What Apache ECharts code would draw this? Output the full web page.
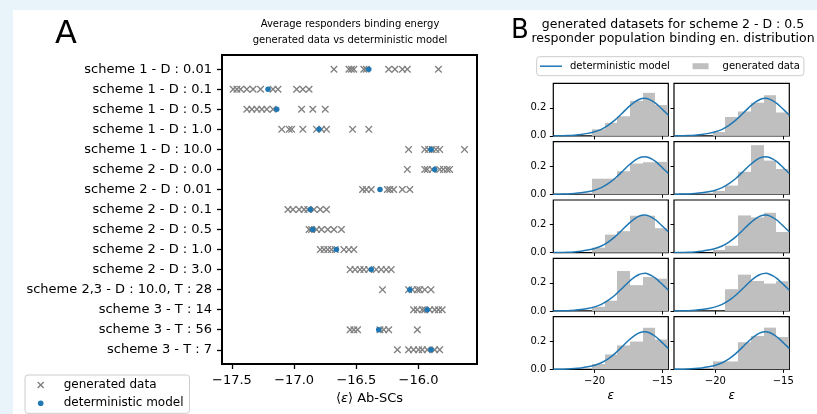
<!DOCTYPE html>
<html>
<head>
<meta charset="utf-8">
<script src="https://cdn.jsdelivr.net/npm/echarts@6/dist/echarts.min.js"></script>
<style>
html,body{margin:0;padding:0;background:#e8f3fa;}
#bg{position:absolute;left:13px;top:10px;right:0;bottom:0;background:#fff;}
#main{position:absolute;left:0;top:0;width:817px;height:414px;}
</style>
</head>
<body>
<div id="bg"></div>
<div id="main"></div>
<script>
// panel A data: one row per simulation setting
var categories = ['scheme 1 - D : 0.01', 'scheme 1 - D : 0.1', 'scheme 1 - D : 0.5', 'scheme 1 - D : 1.0',
  'scheme 1 - D : 10.0', 'scheme 2 - D : 0.0', 'scheme 2 - D : 0.01', 'scheme 2 - D : 0.1',
  'scheme 2 - D : 0.5', 'scheme 2 - D : 1.0', 'scheme 2 - D : 3.0', 'scheme 2,3 - D : 10.0, T : 28',
  'scheme 3 - T : 14', 'scheme 3 - T : 56', 'scheme 3 - T : 7'];
var modelValues = [-16.40, -17.21, -17.14, -16.80, -15.90, -15.87, -16.31, -16.87, -16.85, -16.66,
  -16.38, -16.07, -15.93, -16.32, -15.90];
var generatedValues = [
  [-16.68, -16.56, -16.54, -16.52, -16.44, -16.42, -16.24, -16.19, -16.13, -16.09, -15.84],
  [-17.49, -17.46, -17.43, -17.38, -17.33, -17.27, -17.17, -17.13, -16.98, -16.93, -16.88],
  [-17.38, -17.34, -17.30, -17.26, -17.22, -17.17, -16.94, -16.85, -16.75],
  [-17.10, -17.04, -17.02, -16.93, -16.82, -16.78, -16.74, -16.53, -16.40],
  [-16.08, -15.95, -15.92, -15.89, -15.86, -15.83, -15.63],
  [-16.09, -15.95, -15.93, -15.89, -15.83, -15.80, -15.77, -15.75],
  [-16.45, -16.42, -16.38, -16.25, -16.23, -16.20, -16.13, -16.07],
  [-17.05, -17.01, -16.96, -16.92, -16.89, -16.84, -16.79, -16.74],
  [-16.88, -16.86, -16.82, -16.78, -16.73, -16.68, -16.62],
  [-16.79, -16.76, -16.73, -16.70, -16.67, -16.60, -16.56, -16.52],
  [-16.55, -16.51, -16.47, -16.44, -16.40, -16.34, -16.30, -16.26, -16.22],
  [-16.29, -16.08, -16.05, -16.01, -15.99, -15.95, -15.90],
  [-16.04, -16.01, -15.97, -15.95, -15.91, -15.87, -15.84, -15.81],
  [-16.55, -16.52, -16.49, -16.31, -16.28, -16.24, -16.01],
  [-16.17, -16.08, -16.04, -16.00, -15.97, -15.93, -15.87, -15.83]
];
var xTicksA = [-17.5, -17.0, -16.5, -16.0];

// panel B data: histograms of the 10 generated datasets + model curve
var binEdges = [-20.2, -19.26, -18.32, -17.38, -16.44, -15.5, -14.56];
var hist1 = [0.047, 0.093, 0.140, 0.250, 0.307, 0.220];
var hist2 = [0.028, 0.135, 0.174, 0.237, 0.290, 0.167];
var hist3 = [0.111, 0.111, 0.164, 0.219, 0.228, 0.231];
var hist4 = [0.023, 0.062, 0.160, 0.350, 0.240, 0.180];
var hist5 = [0.035, 0.128, 0.153, 0.263, 0.263, 0.174];
var hist6 = [0.019, 0.049, 0.265, 0.251, 0.284, 0.147];
var hist7 = [0.030, 0.073, 0.285, 0.184, 0.242, 0.230];
var hist8 = [0.000, 0.155, 0.259, 0.214, 0.195, 0.212];
var hist9 = [0.038, 0.106, 0.170, 0.198, 0.296, 0.212];
var hist10 = [0.056, 0.056, 0.193, 0.237, 0.297, 0.230];
var curveX = [-23.05, -22.5, -22.0, -21.5, -21.0, -20.5, -20.0, -19.5, -19.0, -18.5, -18.0, -17.5,
  -17.0, -16.75, -16.5, -16.25, -16.0, -15.75, -15.5, -15.25, -15.0, -14.75, -14.55];
var curveY = [0.000, 0.001, 0.002, 0.005, 0.010, 0.018, 0.029, 0.047, 0.075, 0.112, 0.158, 0.205,
  0.244, 0.258, 0.266, 0.268, 0.262, 0.250, 0.234, 0.213, 0.190, 0.167, 0.148];
var xTicksB = [-20, -15];
var yTicksB = [0, 0.2];

var FONT = 'DejaVu Sans';
var GRAY = '#808080', BLUE = '#1f77b4', BARC = '#bfbfbf';
var crossPath = 'path://M1,0L4,3L7,0L8,1L5,4L8,7L7,8L4,5L1,8L0,7L3,4L0,1Z';
var minus = function (s) { return String(s).replace('-', '\u2212'); };

var myChart = echarts.init(document.getElementById('main'));

var rowIdx = categories.map(function (c, i) { return i; });
var genPoints = [];
generatedValues.forEach(function (row, i) {
  row.forEach(function (v) { genPoints.push([v, i]); });
});
var modelPoints = modelValues.map(function (v, i) { return [v, i]; });

var grids = [{ left: 222, top: 55, right: 340, bottom: 50, show: true, borderColor: '#000', borderWidth: 2 }];
var xAxes = [{
  gridIndex: 0, type: 'value', min: -17.58, max: -15.53,
  axisLine: { show: false, onZero: false }, splitLine: { show: false },
  axisTick: { customValues: xTicksA, length: 5, lineStyle: { color: '#000', width: 1.3 } },
  axisLabel: { customValues: xTicksA, formatter: function (v) { return minus(v.toFixed(1)); },
    fontSize: 13, color: '#000', margin: 10, fontFamily: FONT },
  name: '\u27e8{i|\u03b5}\u27e9 Ab-SCs', nameLocation: 'middle', nameGap: 27,
  nameTextStyle: { fontSize: 13, color: '#000', fontFamily: FONT, padding: [0, 0, 0, 40],
    rich: { i: { fontStyle: 'italic', fontSize: 13, fontFamily: FONT } } }
}];
var yAxes = [{
  gridIndex: 0, type: 'value', inverse: true, min: -0.71, max: 14.71,
  axisLine: { show: false, onZero: false }, splitLine: { show: false },
  axisTick: { customValues: rowIdx, length: 5, lineStyle: { color: '#000', width: 1.3 } },
  axisLabel: { customValues: rowIdx, formatter: function (v) { return categories[Math.round(v)]; },
    fontSize: 13, color: '#000', margin: 10, fontFamily: FONT }
}];

var series = [
  { type: 'scatter', name: 'generated data', xAxisIndex: 0, yAxisIndex: 0, data: genPoints,
    symbol: crossPath, symbolSize: 7.5, itemStyle: { color: GRAY, opacity: 1 } },
  { type: 'scatter', name: 'deterministic model', xAxisIndex: 0, yAxisIndex: 0, data: modelPoints,
    symbol: 'circle', symbolSize: 5.5, itemStyle: { color: BLUE, opacity: 1 } }
];

var hists = [hist1, hist2, hist3, hist4, hist5, hist6, hist7, hist8, hist9, hist10];
var curve = curveX.map(function (x, i) { return [x, curveY[i]]; });
var colLeft = [553.3, 674];
var colWidth = [115, 115.3];

hists.forEach(function (h, k) {
  var row = Math.floor(k / 2), col = k % 2;
  var gi = k + 1;
  var bottomRow = row === 4;
  grids.push({ left: colLeft[col], width: colWidth[col], top: 83.3 + row * 58.35, height: 52.6,
    show: true, borderColor: '#000', borderWidth: 1.2 });
  xAxes.push({
    gridIndex: gi, type: 'value', min: -23.05, max: -14.55,
    axisLine: { show: false, onZero: false }, splitLine: { show: false },
    axisTick: { customValues: xTicksB, length: 3.5, lineStyle: { color: '#000', width: 1 } },
    axisLabel: { show: bottomRow, customValues: xTicksB, formatter: function (v) { return minus(v); },
      fontSize: 10, color: '#000', margin: 7, fontFamily: FONT },
    name: bottomRow ? '\u03b5' : '', nameLocation: 'middle', nameGap: 21,
    nameTextStyle: { fontSize: 12, fontStyle: 'italic', color: '#000', fontFamily: FONT }
  });
  yAxes.push({
    gridIndex: gi, type: 'value', min: 0, max: 0.375,
    axisLine: { show: false, onZero: false }, splitLine: { show: false },
    axisTick: { customValues: yTicksB, length: 3.5, lineStyle: { color: '#000', width: 1 } },
    axisLabel: { show: col === 0, customValues: yTicksB, formatter: function (v) { return v.toFixed(1); },
      fontSize: 10, color: '#000', margin: 7, fontFamily: FONT }
  });
  series.push({
    type: 'custom', name: 'generated data', xAxisIndex: gi, yAxisIndex: gi,
    data: h.map(function (v, i) { return [binEdges[i], binEdges[i + 1], v]; }),
    encode: { x: [0, 1], y: 2 },
    itemStyle: { color: BARC },
    renderItem: function (params, api) {
      var p0 = api.coord([api.value(0), api.value(2)]);
      var p1 = api.coord([api.value(1), 0]);
      var x0 = Math.round(p0[0]), x1 = Math.round(p1[0]);
      return { type: 'rect', shape: { x: x0, y: p0[1], width: x1 - x0, height: p1[1] - p0[1] },
        style: { fill: BARC } };
    }
  });
  series.push({
    type: 'line', name: 'deterministic model', xAxisIndex: gi, yAxisIndex: gi, data: curve,
    smooth: 0.3, showSymbol: false, symbol: 'none', z: 5,
    lineStyle: { color: BLUE, width: 1.5 }, itemStyle: { color: BLUE }
  });
});

var option = {
  animation: false,
  textStyle: { fontFamily: FONT },
  title: [
    { text: 'Average responders binding energy\ngenerated data vs deterministic model',
      left: 350, top: 16, textAlign: 'center', padding: 0,
      textStyle: { fontSize: 10, fontWeight: 'normal', color: '#000', lineHeight: 16, fontFamily: FONT } },
    { text: 'generated datasets for scheme 2 - D : 0.5\nresponder population binding en. distribution',
      left: 673, top: 18, textAlign: 'center', padding: 0,
      textStyle: { fontSize: 12.5, fontWeight: 'normal', color: '#000', lineHeight: 13.5, fontFamily: FONT } }
  ],
  legend: [
    { orient: 'vertical', left: 25, top: 375, padding: [3, 6, 3, 10.7], itemWidth: 23, itemHeight: 10,
      itemGap: 4.3, selectedMode: false, borderColor: '#cccccc', borderWidth: 1, borderRadius: 3,
      backgroundColor: 'rgba(255,255,255,0.8)', itemStyle: { borderWidth: 0 },
      textStyle: { fontSize: 12, color: '#000', fontFamily: FONT, lineHeight: 14 },
      data: [
        { name: 'generated data', icon: 'path://M0,0M23,10M1.5,2.5L2.5,1.5L5,4L7.5,1.5L8.5,2.5L6,5L8.5,7.5L7.5,8.5L5,6L2.5,8.5L1.5,7.5L4,5Z',
          itemStyle: { color: GRAY } },
        { name: 'deterministic model', icon: 'path://M0,0M23,10M2.2,5A2.8,2.8,0,1,1,7.8,5A2.8,2.8,0,1,1,2.2,5Z',
          itemStyle: { color: BLUE } }
      ] },
    { orient: 'horizontal', left: 536.7, top: 56.7, padding: [3, 4, 3, 3.3], itemWidth: 25, itemHeight: 10,
      itemGap: 22.7, selectedMode: false, borderColor: '#cccccc', borderWidth: 1, borderRadius: 3,
      backgroundColor: 'rgba(255,255,255,0.8)', itemStyle: { borderWidth: 0 },
      textStyle: { fontSize: 10, color: '#000', fontFamily: FONT, lineHeight: 13 },
      data: [
        { name: 'deterministic model', icon: 'path://M0,0M25,10M0,4.25L22,4.25L22,5.75L0,5.75Z',
          itemStyle: { color: BLUE } },
        { name: 'generated data', icon: 'path://M0,0M25,10M0,2L16,2L16,8L0,8Z',
          itemStyle: { color: BARC } }
      ] }
  ],
  graphic: [
    { type: 'text', x: 66, y: 35, style: { text: 'A', fontSize: 32, fontFamily: FONT, fill: '#000',
      align: 'center', verticalAlign: 'middle' } },
    { type: 'text', x: 520, y: 31, style: { text: 'B', fontSize: 26, fontFamily: FONT, fill: '#000',
      align: 'center', verticalAlign: 'middle' } }
  ],
  grid: grids,
  xAxis: xAxes,
  yAxis: yAxes,
  series: series
};
myChart.setOption(option);
</script>
</body>
</html>
